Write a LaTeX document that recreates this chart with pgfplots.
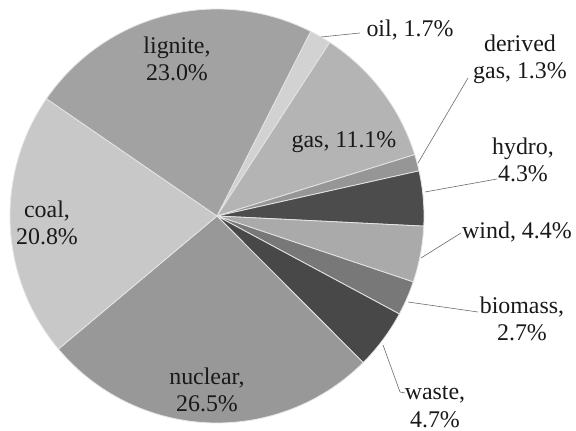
\documentclass[border=0pt]{standalone}
\usepackage{pgfplots}
\usepackage{pgfplotstable}
\pgfplotsset{compat=1.18}
\usepackage{fontspec}
\setmainfont{Liberation Serif}

% electricity generation mix, slices listed clockwise starting with oil
\pgfplotstableread[col sep=comma]{
name,value,shade
oil,1.7,210
gas,11.1,180
derived gas,1.3,150
hydro,4.3,76
wind,4.4,170
biomass,2.7,120
waste,4.7,72
nuclear,26.5,152
coal,20.8,200
lignite,23.0,162
}\sharetable

\begin{document}
\begin{tikzpicture}
\begin{axis}[
  scale only axis, width=576bp, height=431bp,
  xmin=0, xmax=576, ymin=0, ymax=431,
  hide axis, clip=false,
]
\path (axis cs:0,0) rectangle (axis cs:576,431);
% pie centre (217,215), radius 207, first slice begins at 63.1 degrees
\pgfmathsetmacro{\k}{360/100.5}% degrees per percent (shares add up to 100.5)
\def\cum{0}
\pgfplotstablegetrowsof{\sharetable}
\pgfmathtruncatemacro{\nrows}{\pgfplotsretval-1}
\pgfplotsforeachungrouped \i in {0,...,\nrows}{
  \pgfplotstablegetelem{\i}{value}\of\sharetable \let\v=\pgfplotsretval
  \pgfplotstablegetelem{\i}{shade}\of\sharetable \let\s=\pgfplotsretval
  \pgfmathsetmacro{\a}{63.1-\k*\cum}
  \pgfmathsetmacro{\b}{63.1-\k*(\cum+\v)}
  \pgfmathsetmacro{\cum}{\cum+\v}
  \edef\doslice{\noexpand\addplot[fill={rgb,255:red,\s;green,\s;blue,\s},
    draw=white!90!black, line width=0.8bp, domain=\b:\a, samples=60]
    ({217+207*cos(x)},{215+207*sin(x)}) -- (axis cs:217,215) -- cycle;}
  \doslice
}
% leader lines
\pgfplotsset{leader/.style={gray!85!black, line width=0.6bp}}
\addplot[leader] coordinates {(321,394) (360,398)};
\addplot[leader] coordinates {(418,268) (468,353)};
\addplot[leader] coordinates {(425,239) (497,252)};
\addplot[leader] coordinates {(421,173) (461,198)};
\addplot[leader] coordinates {(408,129) (478,119)};
\addplot[leader] coordinates {(383,86) (400,39) (405,38)};
% labels
\tikzset{lab/.style={align=center, inner sep=0pt, text=black!90,
  font=\fontsize{24}{27.5}\selectfont\rmfamily}}
\node[lab] at (axis cs:177,372) {lignite,\\23.0\%};
\node[lab] at (axis cs:47,208) {coal,\\20.8\%};
\node[lab] at (axis cs:207,41) {nuclear,\\26.5\%};
\node[lab] at (axis cs:344,289) {gas, 11.1\%};
\node[lab] at (axis cs:410,401) {oil, 1.7\%};
\node[lab] at (axis cs:520,372) {derived\\gas, 1.3\%};
\node[lab] at (axis cs:523,271) {hydro,\\4.3\%};
\node[lab] at (axis cs:517,199) {wind, 4.4\%};
\node[lab] at (axis cs:522,112) {biomass,\\2.7\%};
\node[lab] at (axis cs:435,24) {waste,\\4.7\%};
\end{axis}
\end{tikzpicture}
\end{document}
